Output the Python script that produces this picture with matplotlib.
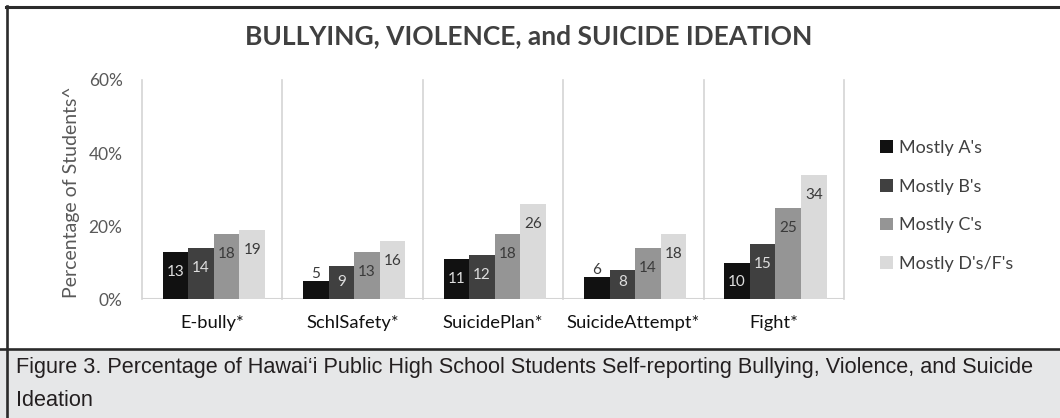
import matplotlib
matplotlib.use("Agg")
import matplotlib.pyplot as plt
from matplotlib.patches import Rectangle
from matplotlib.lines import Line2D
import numpy as np

plt.rcParams['font.family'] = ['Lato', 'DejaVu Sans']

categories = ['E-bully*', 'SchlSafety*', 'SuicidePlan*', 'SuicideAttempt*', 'Fight*']
groups = ["Mostly A's", "Mostly B's", "Mostly C's", "Mostly D's/F's"]
mostly_a = [13, 5, 11, 6, 10]
mostly_b = [14, 9, 12, 8, 15]
mostly_c = [18, 13, 18, 14, 25]
mostly_df = [19, 16, 26, 18, 34]
series = [mostly_a, mostly_b, mostly_c, mostly_df]

bar_colors = ['#111111', '#404040', '#959595', '#dadada']
label_colors = ['#dedede', '#dedede', '#3a3a3a', '#3a3a3a']
yticks = [0, 20, 40, 60]

W, H = 1060, 418
fig = plt.figure(figsize=(W / 100, H / 100), dpi=100)
fig.patch.set_facecolor('white')

# caption panel and frame lines
fig.patches.append(Rectangle((0, 0), 1, (H - 349) / H, transform=fig.transFigure,
                             facecolor='#e6e7e8', edgecolor='none', zorder=0))
fig.lines.append(Line2D([0, 1], [(H - 348.5) / H] * 2, transform=fig.transFigure,
                        color='#2b2b2b', linewidth=1.9))
fig.lines.append(Line2D([6 / W, 1], [(H - 6.5) / H] * 2, transform=fig.transFigure,
                        color='#2b2b2b', linewidth=2.2))
fig.lines.append(Line2D([7 / W] * 2, [0, (H - 5.5) / H], transform=fig.transFigure,
                        color='#2b2b2b', linewidth=1.9))

ax = fig.add_axes([142 / W, (H - 299.3) / H, 702 / W, 219.3 / H])
ax.set_xlim(-0.5, len(categories) - 0.5)
ax.set_ylim(0, 60)

x = np.arange(len(categories))
width = 0.182
px_per_unit = 219.3 / 60

bars = []
for i, vals in enumerate(series):
    pos = x + (i - 1.5) * width + 0.012
    b = ax.bar(pos, vals, width, color=bar_colors[i], label=groups[i], zorder=2)
    bars.append(b)
    for xp, v in zip(pos, vals):
        if v * px_per_unit < 25:
            yl = v + 7 / px_per_unit
            col = '#3a3a3a'
        else:
            yl = max(v - 20 / px_per_unit, 17 / px_per_unit)
            col = label_colors[i]
        ax.text(xp, yl, str(v), ha='center', va='center', fontsize=11,
                color=col, zorder=3)

# category separators
for xs in np.arange(-0.5, len(categories), 1.0):
    ax.plot([xs, xs], [0, 60], color='#d4d4d4', linewidth=1.2, zorder=1,
            clip_on=False)

for s in ax.spines.values():
    s.set_visible(False)
ax.axhline(0, color='#d4d4d4', linewidth=1.5, zorder=1)

ax.set_yticks(yticks)
ax.set_yticklabels([f'{t}%' for t in yticks], fontsize=12.5, color='#595959')
ax.set_xticks(x)
ax.set_xticklabels(categories, fontsize=13.2, color='#111111')
ax.tick_params(axis='y', length=0, pad=14)
ax.tick_params(axis='x', length=0, pad=11)
ax.set_ylabel('Percentage of Students^', fontsize=14, color='#595959')
ax.yaxis.set_label_coords(-(142 - 80) / 702, 0.49)

fig.text(529 / W, (H - 36) / H, 'BULLYING, VIOLENCE, and SUICIDE IDEATION',
         ha='center', va='center', fontsize=19, fontweight='bold', color='#404040')

ax.legend(handles=bars, loc='upper left', bbox_to_anchor=(880 / W, (H - 140) / H),
          bbox_transform=fig.transFigure, frameon=False, fontsize=13,
          labelcolor='#404040', handlelength=0.7, handleheight=0.7,
          handletextpad=0.35, labelspacing=1.25, borderpad=0, borderaxespad=0)

cap_font = ['Liberation Sans', 'DejaVu Sans']
fig.text(16 / W, (H - 368) / H,
         'Figure 3. Percentage of Hawai\u2018i Public High School Students Self-reporting '
         'Bullying, Violence, and Suicide',
         ha='left', va='center', fontsize=15.6, color='#231f20', family=cap_font)
fig.text(16 / W, (H - 401) / H, 'Ideation', ha='left', va='center', fontsize=15.6,
         color='#231f20', family=cap_font)

fig.savefig('out.png', dpi=100)
